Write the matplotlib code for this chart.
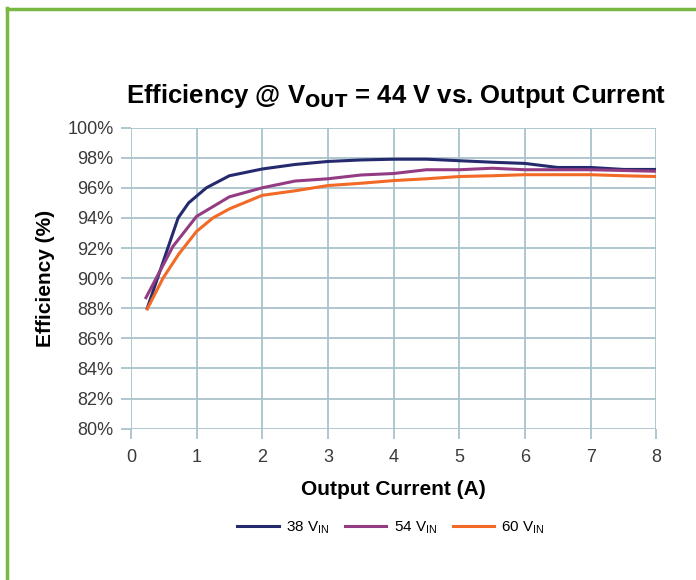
import numpy as np
import matplotlib.pyplot as plt

plt.rcParams["font.family"] = ["Liberation Sans", "DejaVu Sans"]

# output current (A) and efficiency (%)
current_38 = [0.25, 0.72, 0.88, 1.15, 1.5, 2, 2.5, 3, 3.5, 4, 4.5, 5, 5.5, 6, 6.5, 7, 7.5, 8]
eff_38 = [88.0, 94.0, 95.0, 96.0, 96.8, 97.25, 97.55, 97.75, 97.85, 97.9, 97.9, 97.8, 97.7, 97.62, 97.35, 97.35, 97.22, 97.22]

current_54 = [0.23, 0.64, 1.0, 1.5, 2, 2.5, 3, 3.5, 4, 4.5, 5, 5.5, 6, 6.5, 7, 7.5, 8]
eff_54 = [88.7, 92.1, 94.1, 95.4, 96.0, 96.45, 96.6, 96.85, 96.95, 97.2, 97.2, 97.3, 97.2, 97.2, 97.2, 97.15, 97.1]

current_60 = [0.25, 0.49, 0.73, 1.0, 1.25, 1.5, 2, 2.5, 3, 3.5, 4, 4.5, 5, 5.5, 6, 6.5, 7, 7.5, 8]
eff_60 = [87.95, 90.0, 91.6, 93.1, 94.0, 94.6, 95.5, 95.8, 96.15, 96.3, 96.48, 96.6, 96.75, 96.8, 96.87, 96.87, 96.87, 96.8, 96.75]

series = [
    ("38", current_38, eff_38, "#252a6e"),
    ("54", current_54, eff_54, "#933c84"),
    ("60", current_60, eff_60, "#f26a25"),
]

x_ticks = list(range(0, 9))
y_ticks = list(range(80, 101, 2))

grid_color = "#a9c3cb"
text_color = "#3a3a3a"

fig = plt.figure(figsize=(6.96, 5.8), dpi=100)
ax = fig.add_axes([0.188, 0.261, 0.755, 0.519])

for name, x, y, color in series:
    ax.plot(x, y, color=color, lw=2.2, label=f"{name} V$_{{\\mathregular{{IN}}}}$",
            solid_joinstyle="round", zorder=3)

ax.set_xlim(0, 8)
ax.set_ylim(80, 100)
ax.set_xticks(x_ticks)
ax.set_yticks(y_ticks)
ax.set_yticklabels([f"{v}%" for v in y_ticks])
ax.grid(True, color=grid_color, lw=1.3)
for s in ax.spines.values():
    s.set_visible(False)
ax.tick_params(axis="both", length=7.5, width=1.3, color=grid_color,
               labelsize=13, labelcolor=text_color)
ax.tick_params(axis="x", pad=7)
ax.tick_params(axis="y", pad=5)

ax.set_xlabel("Output Current (A)", fontsize=15, fontweight="bold", labelpad=10,
              color="black")
ax.set_ylabel("Efficiency (%)", fontsize=15, fontweight="bold", labelpad=9,
              color="black")
ax.set_title("Efficiency @ V$_{\\mathregular{\\bf OUT}}$ = 44 V vs. Output Current",
             fontsize=18.5, fontweight="bold", pad=18, x=0.505)

fig.legend(loc="center", bbox_to_anchor=(0.562, 0.091), ncol=3, frameon=False,
           fontsize=11, handlelength=2.7, columnspacing=1.0, handletextpad=0.5)

# green frame around the figure (top and left edges)
fig.add_artist(plt.Line2D([7 / 696, 7 / 696], [0, 1 - 8 / 580], color="#78b843",
                          lw=2.5, transform=fig.transFigure))
fig.add_artist(plt.Line2D([7 / 696, 1], [1 - 8.5 / 580, 1 - 8.5 / 580], color="#78b843",
                          lw=2.5, transform=fig.transFigure))

fig.savefig("out.png", dpi=100)
